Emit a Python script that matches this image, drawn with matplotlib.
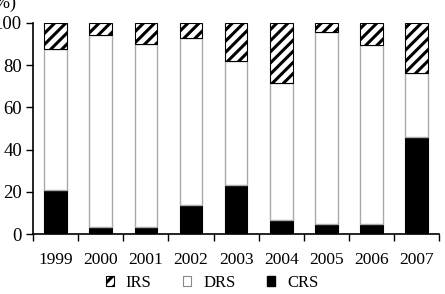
import matplotlib
matplotlib.use("Agg")
import matplotlib.pyplot as plt
import numpy as np
from matplotlib.patches import Patch

years = ["1999", "2000", "2001", "2002", "2003", "2004", "2005", "2006", "2007"]
crs = [21.1, 3.6, 3.6, 13.8, 23.2, 6.8, 4.7, 4.7, 45.8]
drs_top = [87.6, 94.2, 89.8, 92.6, 82.0, 71.4, 95.7, 89.3, 76.4]
drs = [t - c for t, c in zip(drs_top, crs)]
irs = [100 - t for t in drs_top]

plt.rcParams['font.family'] = ['Liberation Serif', 'DejaVu Serif']
plt.rcParams['hatch.linewidth'] = 2.2

fig = plt.figure(figsize=(4.45, 2.94), dpi=100)
ax = fig.add_axes([33/445, 1 - 234.3/294, (439.3-33)/445, (234.3-22.7)/294])

x = np.arange(len(years))
w = 0.5
ax.bar(x, crs, w, color='black', edgecolor='black', linewidth=0.8)
ax.bar(x, drs, w, bottom=crs, color='white', edgecolor='#aaaaaa', linewidth=1.0)
ax.bar(x, irs, w, bottom=drs_top, color='white', edgecolor='black', hatch='///', linewidth=0.8)

ax.set_xlim(-0.5, len(years) - 0.5)
ax.set_ylim(0, 100)
ax.set_yticks([0, 20, 40, 60, 80, 100])
ax.set_xticks(x)
ax.set_xticklabels(years, fontsize=12.5)
ax.tick_params(axis='x', length=0, pad=13)
ax.set_xticks(np.arange(-0.5, len(years), 1), minor=True)
ax.tick_params(axis='x', which='minor', length=5, direction='out', width=1)
ax.tick_params(axis='y', labelsize=13.5, length=5, direction='out', width=1, pad=3)
for s in ['top', 'right']:
    ax.spines[s].set_visible(False)
ax.spines['left'].set_linewidth(1.2)
ax.spines['bottom'].set_linewidth(1.2)

fig.text(3/445, 1 - 3/294, "(%)", fontsize=13, ha='center', va='center')

handles = [Patch(facecolor='white', edgecolor='black', hatch='///', linewidth=0.8, label='IRS'),
           Patch(facecolor='white', edgecolor='#888888', linewidth=0.8, label='DRS'),
           Patch(facecolor='black', edgecolor='black', label='CRS')]
fig.legend(handles=handles, loc='center', bbox_to_anchor=(212/445, 1 - 283/294), ncol=3,
           frameon=False, fontsize=12, handlelength=0.5, handleheight=0.5,
           handletextpad=0.7, columnspacing=1.9)

fig.savefig("out.png", dpi=100)
